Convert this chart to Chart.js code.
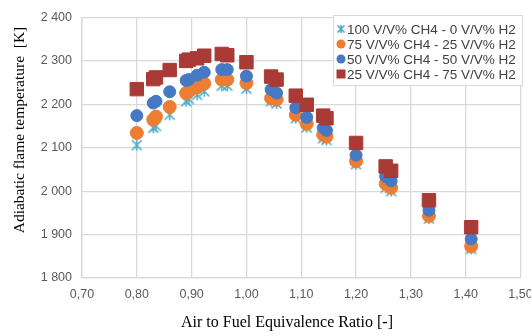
<!DOCTYPE html>
<html>
<head>
<meta charset="utf-8">
<script src="https://cdn.jsdelivr.net/npm/chart.js@4.4.1/dist/chart.umd.min.js"></script>
<style>
  body { margin: 0; background: #fff; }
</style>
</head>
<body>
<canvas id="chart" width="531" height="336"></canvas>
<script>
// equivalence ratio (lambda) of each test point
const lambdaValues = [0.80, 0.83, 0.835, 0.86, 0.89, 0.895, 0.91, 0.923, 0.955, 0.965, 1.00,
  1.045, 1.055, 1.09, 1.11, 1.14, 1.146, 1.20, 1.254, 1.264, 1.333, 1.41];

// adiabatic flame temperature [K] per fuel mix
const temp100CH4 = [2106, 2146, 2150, 2176, 2207, 2212, 2222, 2230, 2243, 2243, 2236,
  2207, 2202, 2168, 2147, 2122, 2118, 2062, 2008, 2000, 1937, 1867];
const temp75CH4 = [2134, 2165, 2172, 2194, 2226, 2230, 2239, 2248, 2257, 2257, 2249,
  2214, 2211, 2176, 2155, 2130, 2126, 2069, 2017, 2008, 1943, 1873];
const temp50CH4 = [2174, 2203, 2207, 2229, 2255, 2257, 2267, 2274, 2280, 2280, 2265,
  2234, 2226, 2192, 2170, 2146, 2140, 2083, 2034, 2024, 1956, 1890];
const temp25CH4 = [2235, 2258, 2262, 2279, 2300, 2303, 2306, 2312, 2316, 2313, 2297,
  2264, 2257, 2220, 2199, 2174, 2168, 2111, 2057, 2047, 1979, 1917];

const seriesLabels = [
  '100 V/V% CH4 - 0 V/V% H2',
  '75 V/V% CH4 - 25 V/V% H2',
  '50 V/V% CH4 - 50 V/V% H2',
  '25 V/V% CH4 - 75 V/V% H2'
];

const xTitle = 'Air to Fuel Equivalence Ratio [-]';
const yTitle = 'Adiabatic flame temperature  [K]';

const toPoints = ys => ys.map((y, i) => ({ x: lambdaValues[i], y: y }));

// excel style asterisk marker
function makeStar(size, color) {
  const c = document.createElement('canvas');
  c.width = size; c.height = size;
  const g = c.getContext('2d');
  g.strokeStyle = color;
  g.lineWidth = 1.6;
  const m = 1.5, s = size - 1.5;
  g.beginPath();
  g.moveTo(m, m); g.lineTo(s, s);
  g.moveTo(s, m); g.lineTo(m, s);
  g.moveTo(size / 2, m - 0.5); g.lineTo(size / 2, s + 0.5);
  g.stroke();
  return c;
}
const starBig = makeStar(13, '#4BACC6');
const starSmall = makeStar(10, '#4BACC6');

// axis titles placed like the excel original (not centred on the plot)
const axisTitles = {
  id: 'axisTitles',
  afterDraw(chart) {
    const ctx = chart.ctx;
    ctx.save();
    ctx.fillStyle = '#000';
    ctx.textAlign = 'center';
    ctx.textBaseline = 'middle';
    ctx.font = '16px "Liberation Serif", "Times New Roman", serif';
    ctx.fillText(xTitle, 287, 323);
    ctx.translate(20, 130);
    ctx.rotate(-Math.PI / 2);
    ctx.font = '15.5px "Liberation Serif", "Times New Roman", serif';
    ctx.fillText(yTitle, 0, 0);
    ctx.restore();
  }
};

const boxLegend = {
  id: 'boxLegend',
  afterDraw(chart) {
    const ctx = chart.ctx;
    const left = 333, top = 15, w = 189, h = 70;
    ctx.save();
    ctx.fillStyle = '#fff';
    ctx.fillRect(left, top, w, h);
    ctx.strokeStyle = '#d9d9d9';
    ctx.lineWidth = 1;
    ctx.strokeRect(left + 0.5, top + 0.5, w, h);
    ctx.font = '13.5px "Liberation Sans", Arial, sans-serif';
    ctx.textBaseline = 'middle';
    chart.data.datasets.forEach((ds, i) => {
      const y = top + 14 + i * 15;
      const x = left + 8;
      ctx.fillStyle = ds.backgroundColor;
      if (ds.legendStyle === 'star') {
        ctx.drawImage(starSmall, x - 5, y - 5);
      } else if (ds.legendStyle === 'rect') {
        ctx.fillRect(x - 4.5, y - 4.5, 9, 9);
      } else {
        ctx.beginPath();
        ctx.arc(x, y, 4.5, 0, Math.PI * 2);
        ctx.fill();
      }
      ctx.fillStyle = '#404040';
      ctx.fillText(ds.label, left + 14, y + 1);
    });
    ctx.restore();
  }
};

new Chart(document.getElementById('chart'), {
  type: 'scatter',
  data: {
    datasets: [
      {
        label: seriesLabels[0],
        data: toPoints(temp100CH4),
        pointStyle: starBig,
        legendStyle: 'star',
        backgroundColor: '#4BACC6',
        borderColor: '#4BACC6',
        pointRadius: 6,
        order: 3
      },
      {
        label: seriesLabels[1],
        data: toPoints(temp75CH4),
        pointStyle: 'circle',
        legendStyle: 'circle',
        backgroundColor: '#ED7D31',
        borderColor: '#ED7D31',
        pointRadius: 6.5,
        order: 2
      },
      {
        label: seriesLabels[2],
        data: toPoints(temp50CH4),
        pointStyle: 'circle',
        legendStyle: 'circle',
        backgroundColor: '#4679C4',
        borderColor: '#4679C4',
        pointRadius: 6,
        order: 1
      },
      {
        label: seriesLabels[3],
        data: toPoints(temp25CH4),
        pointStyle: 'rect',
        legendStyle: 'rect',
        backgroundColor: '#A93A35',
        borderColor: '#A93A35',
        pointRadius: 9.5,
        order: 0
      }
    ]
  },
  options: {
    responsive: false,
    animation: false,
    layout: { padding: { top: 14, right: 0, left: 0, bottom: 0 } },
    plugins: {
      legend: { display: false },
      tooltip: { enabled: false }
    },
    scales: {
      x: {
        type: 'linear',
        min: 0.7,
        max: 1.5,
        afterFit: scale => {
          scale.height = 58;
          scale.paddingRight = 9.5;
          scale.paddingLeft = 0;
        },
        ticks: {
          stepSize: 0.1,
          padding: 9,
          color: '#595959',
          font: { family: '"Liberation Sans", Arial, sans-serif', size: 12.5 },
          callback: v => v.toFixed(2).replace('.', ',')
        },
        grid: { color: '#d9d9d9', lineWidth: 1.3, drawTicks: false },
        border: { color: '#d9d9d9', width: 1.3 }
      },
      y: {
        min: 1800,
        max: 2400,
        afterFit: scale => { scale.width = 82; },
        ticks: {
          stepSize: 100,
          padding: 10,
          color: '#595959',
          font: { family: '"Liberation Sans", Arial, sans-serif', size: 12.5 },
          callback: v => String(v).replace(/\B(?=(\d{3})+(?!\d))/g, ' ')
        },
        grid: { color: '#d9d9d9', lineWidth: 1.3, drawTicks: false },
        border: { color: '#d9d9d9', width: 1.3 }
      }
    }
  },
  plugins: [axisTitles, boxLegend]
});
</script>
</body>
</html>
